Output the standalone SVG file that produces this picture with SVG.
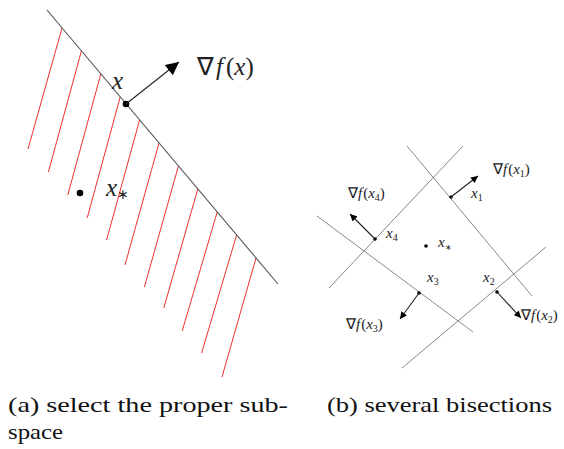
<svg xmlns="http://www.w3.org/2000/svg" width="564" height="449" viewBox="0 0 564 449">
<defs>
<marker id="ahA" viewBox="0 0 10 10" refX="10" refY="5" markerWidth="16" markerHeight="13" markerUnits="userSpaceOnUse" orient="auto"><path d="M0,0 L10,5 L0,10 z" fill="#000"/></marker>
<marker id="ahB" viewBox="0 0 10 10" refX="10" refY="5" markerWidth="8" markerHeight="7" markerUnits="userSpaceOnUse" orient="auto"><path d="M0,0 L10,5 L0,10 z" fill="#000"/></marker>
</defs>
<style>
.bd{stroke:#555;stroke-width:1.1;fill:none}
.gl{stroke:#888;stroke-width:1;fill:none}
.red{stroke:#f03030;stroke-width:1;fill:none}
.arr{stroke:#222;stroke-width:1.1;fill:none}
</style>
<rect width="564" height="449" fill="#fff"/>
<g id="panel-a">
<g id="hatch">
<line class="red" x1="62" y1="28" x2="28" y2="149"/>
<line class="red" x1="81.4" y1="51" x2="48.4" y2="172"/>
<line class="red" x1="100.8" y1="74" x2="67.8" y2="195"/>
<line class="red" x1="120.2" y1="97" x2="87.2" y2="218"/>
<line class="red" x1="139.6" y1="120" x2="106.6" y2="240"/>
<line class="red" x1="159" y1="143" x2="125" y2="265"/>
<line class="red" x1="178.4" y1="166" x2="144.4" y2="287"/>
<line class="red" x1="197.8" y1="189" x2="163.8" y2="308"/>
<line class="red" x1="217.2" y1="212" x2="182.2" y2="331"/>
<line class="red" x1="236.6" y1="235" x2="201.6" y2="353"/>
<line class="red" x1="256" y1="258" x2="222" y2="377"/>
</g>
<g id="boundary"><line class="bd" x1="47" y1="10" x2="278" y2="284"/></g>
<g id="point-x">
<circle cx="126" cy="104" r="3.3" fill="#000"/>
<text x="112" y="89" font-size="25" font-style="italic" fill="#222" font-family="'Liberation Serif'">x</text>
</g>
<g id="grad-x">
<line class="arr" x1="126" y1="104" x2="179" y2="62" marker-end="url(#ahA)"/>
<text x="197" y="75" font-size="25" fill="#222" font-family="'Liberation Serif'">∇<tspan font-style="italic" dx="2">f</tspan><tspan dx="3">(</tspan><tspan font-style="italic">x</tspan>)</text>
</g>
<g id="point-xstar">
<circle cx="80" cy="193" r="3.3" fill="#000"/>
<text x="106" y="196" font-size="25" font-style="italic" fill="#222" font-family="'Liberation Serif'">x<tspan font-size="14" dy="3" font-style="normal">∗</tspan></text>
</g>
</g>
<g id="panel-b">
<g id="lines">
<line class="gl" x1="407" y1="146" x2="532" y2="296"/>
<line class="gl" x1="463" y1="146" x2="329" y2="288"/>
<line class="gl" x1="317" y1="216" x2="473" y2="332"/>
<line class="gl" x1="546" y1="247" x2="402" y2="368"/>
</g>
<g id="x1">
<circle cx="451" cy="197" r="1.8" fill="#000"/>
<line class="arr" x1="451" y1="197" x2="478" y2="176" marker-end="url(#ahB)"/>
<text x="471" y="198" font-size="15" font-style="italic" fill="#222" font-family="'Liberation Serif'">x<tspan font-size="10" dy="3" font-style="normal">1</tspan></text>
<text x="493" y="174" font-size="15" fill="#222" font-family="'Liberation Serif'">∇<tspan font-style="italic">f</tspan><tspan dx="1">(</tspan><tspan font-style="italic">x</tspan><tspan font-size="10" dy="3">1</tspan><tspan dy="-3">)</tspan></text>
</g>
<g id="x2">
<circle cx="497" cy="292" r="1.8" fill="#000"/>
<line class="arr" x1="497" y1="292" x2="521" y2="318" marker-end="url(#ahB)"/>
<text x="483" y="282" font-size="15" font-style="italic" fill="#222" font-family="'Liberation Serif'">x<tspan font-size="10" dy="3" font-style="normal">2</tspan></text>
<text x="521" y="320" font-size="15" fill="#222" font-family="'Liberation Serif'">∇<tspan font-style="italic">f</tspan><tspan dx="1">(</tspan><tspan font-style="italic">x</tspan><tspan font-size="10" dy="3">2</tspan><tspan dy="-3">)</tspan></text>
</g>
<g id="x3">
<circle cx="419" cy="293" r="1.8" fill="#000"/>
<line class="arr" x1="419" y1="293" x2="400" y2="319" marker-end="url(#ahB)"/>
<text x="427" y="282" font-size="15" font-style="italic" fill="#222" font-family="'Liberation Serif'">x<tspan font-size="10" dy="3" font-style="normal">3</tspan></text>
<text x="346" y="329" font-size="15" fill="#222" font-family="'Liberation Serif'">∇<tspan font-style="italic">f</tspan><tspan dx="1">(</tspan><tspan font-style="italic">x</tspan><tspan font-size="10" dy="3">3</tspan><tspan dy="-3">)</tspan></text>
</g>
<g id="x4">
<circle cx="375" cy="239" r="1.8" fill="#000"/>
<line class="arr" x1="375" y1="239" x2="350" y2="214" marker-end="url(#ahB)"/>
<text x="386" y="238" font-size="15" font-style="italic" fill="#222" font-family="'Liberation Serif'">x<tspan font-size="10" dy="3" font-style="normal">4</tspan></text>
<text x="348" y="198" font-size="15" fill="#222" font-family="'Liberation Serif'">∇<tspan font-style="italic">f</tspan><tspan dx="1">(</tspan><tspan font-style="italic">x</tspan><tspan font-size="10" dy="3">4</tspan><tspan dy="-3">)</tspan></text>
</g>
<g id="xstar-b">
<circle cx="426" cy="246" r="1.8" fill="#000"/>
<text x="438" y="247" font-size="15" font-style="italic" fill="#222" font-family="'Liberation Serif'">x<tspan font-size="8" dy="3" font-style="normal">∗</tspan></text>
</g>
</g>
<g id="captions">
<text x="8" y="412" font-size="21" fill="#111" font-family="'Liberation Serif'" textLength="280" lengthAdjust="spacingAndGlyphs">(a) select the proper sub-</text>
<text x="8" y="439" font-size="21" fill="#111" font-family="'Liberation Serif'" textLength="55" lengthAdjust="spacingAndGlyphs">space</text>
<text x="327" y="412" font-size="21" fill="#111" font-family="'Liberation Serif'" textLength="225" lengthAdjust="spacingAndGlyphs">(b) several bisections</text>
</g>
</svg>
